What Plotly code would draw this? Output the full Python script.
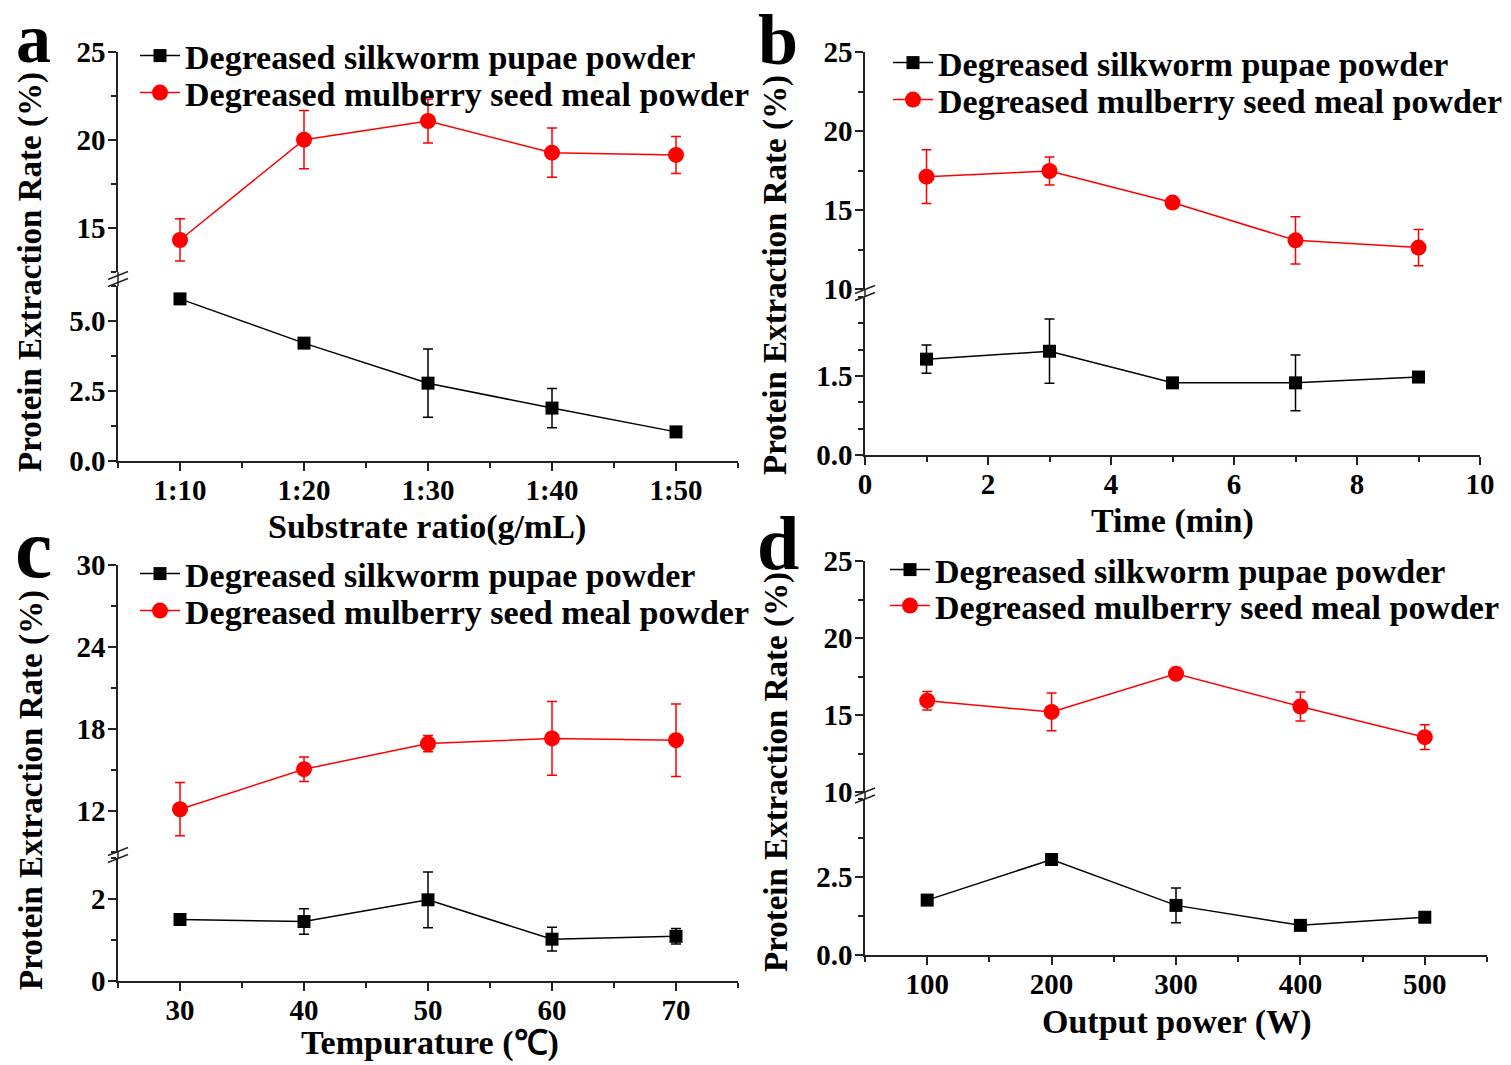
import plotly.graph_objects as go

W, H = 1511, 1065

# ---------------- data ----------------
legend_names = ["Degreased silkworm pupae powder", "Degreased mulberry seed meal powder"]

# (a) substrate ratio
ratio_labels = ["1:10", "1:20", "1:30", "1:40", "1:50"]
a_silk = [5.79, 4.21, 2.78, 1.89, 1.04]
a_silk_err = [0.08, 0.08, 1.22, 0.70, 0.06]
a_mulb = [14.32, 20.02, 21.08, 19.28, 19.15]
a_mulb_err = [1.20, 1.65, 1.25, 1.40, 1.05]

# (b) time
b_time = [1, 3, 5, 7, 9]
b_silk = [1.82, 1.97, 1.37, 1.37, 1.48]
b_silk_err = [0.27, 0.61, 0.06, 0.53, 0.10]
b_mulb = [17.11, 17.47, 15.47, 13.08, 12.62]
b_mulb_err = [1.70, 0.88, 0.12, 1.50, 1.15]

# (c) temperature
c_temp = [30, 40, 50, 60, 70]
c_silk = [1.50, 1.45, 1.98, 1.02, 1.09]
c_silk_err = [0.05, 0.31, 0.68, 0.29, 0.19]
c_mulb = [12.13, 15.06, 16.93, 17.31, 17.18]
c_mulb_err = [1.95, 0.90, 0.60, 2.70, 2.65]

# (d) output power
d_power = [100, 200, 300, 400, 500]
d_silk = [1.76, 3.06, 1.59, 0.95, 1.21]
d_silk_err = [0.05, 0.05, 0.56, 0.05, 0.05]
d_mulb = [15.93, 15.20, 17.68, 15.55, 13.56]
d_mulb_err = [0.60, 1.23, 0.15, 0.94, 0.80]

x_titles = ["Substrate ratio(g/mL)", "Time (min)", "Tempurature (\u2103)", "Output power (W)"]
y_title = "Protein Extraction Rate (%)"
panel_letters = ["a", "b", "c", "d"]

# ---------------- styling ----------------
FONT = "Liberation Serif"
AX = "#222222"
RED = "#ff0000"
BLACK = "#000000"
TICKFONT = dict(family=FONT, size=29, color="#000", weight="bold")


def fx(px):
    return px / W


def fy(py):
    return 1 - py / H


ratio_pos = [i + 1 for i in range(len(ratio_labels))]

panels = [
    dict(x=ratio_pos, silk=a_silk, silk_err=a_silk_err, mulb=a_mulb, mulb_err=a_mulb_err,
         xpx=(118, 738), lo=(461, 286), up=(272, 52),
         xrange=[0.5, 5.5], xtickvals=ratio_pos, xticktext=ratio_labels, xminor=(0.5, 1),
         lorange=[0, 6.25], lotv=[0, 2.5, 5.0], lott=["0.0", "2.5", "5.0"], lominor=1.25,
         uprange=[12.5, 25], uptv=[15, 20, 25], upminor=2.5,
         leg=(135, 56, 93), letter=(33, 38, 70), ytit=(31, 272), xtit=(427, 527)),
    dict(x=b_time, silk=b_silk, silk_err=b_silk_err, mulb=b_mulb, mulb_err=b_mulb_err,
         xpx=(865, 1480), lo=(455, 297), up=(289, 52),
         xrange=[0, 10], xtickvals=[0, 2, 4, 6, 8, 10], xticktext=["0", "2", "4", "6", "8", "10"], xminor=(0, 1),
         lorange=[0, 3], lotv=[0, 1.5], lott=["0.0", "1.5"], lominor=0.5,
         uprange=[10, 25], uptv=[10, 15, 20, 25], upminor=2.5,
         leg=(888, 63, 100), letter=(778, 40, 72), ytit=(776, 275), xtit=(1172, 521)),
    dict(x=c_temp, silk=c_silk, silk_err=c_silk_err, mulb=c_mulb, mulb_err=c_mulb_err,
         xpx=(118, 738), lo=(981, 858), up=(852, 565),
         xrange=[25, 75], xtickvals=[30, 40, 50, 60, 70], xticktext=["30", "40", "50", "60", "70"], xminor=(25, 5),
         lorange=[0, 3], lotv=[0, 2], lott=["0", "2"], lominor=1,
         uprange=[9, 30], uptv=[12, 18, 24, 30], upminor=3,
         leg=(135, 574, 611), letter=(33, 548, 84), ytit=(31, 790), xtit=(430, 1043)),
    dict(x=d_power, silk=d_silk, silk_err=d_silk_err, mulb=d_mulb, mulb_err=d_mulb_err,
         xpx=(865, 1487), lo=(955, 799), up=(792, 561),
         xrange=[50, 550], xtickvals=[100, 200, 300, 400, 500], xticktext=["100", "200", "300", "400", "500"], xminor=(50, 50),
         lorange=[0, 5], lotv=[0, 2.5], lott=["0.0", "2.5"], lominor=1.25,
         uprange=[10, 25], uptv=[10, 15, 20, 25], upminor=2.5,
         leg=(885, 570, 606), letter=(778, 543, 76), ytit=(776, 772), xtit=(1177, 1022)),
]

fig = go.Figure()
layout = dict(
    width=W, height=H, margin=dict(l=0, r=0, t=0, b=0, autoexpand=False),
    paper_bgcolor="white", plot_bgcolor="white",
    font=dict(family=FONT, color="#000", weight="bold"),
    showlegend=True,
)
shapes = []
annotations = []

for i, p in enumerate(panels):
    xname = "xaxis" if i == 0 else f"xaxis{i + 1}"
    xref = "x" if i == 0 else f"x{i + 1}"
    lo_idx, up_idx = 2 * i + 1, 2 * i + 2
    lo_name = "yaxis" if lo_idx == 1 else f"yaxis{lo_idx}"
    lo_ref = "y" if lo_idx == 1 else f"y{lo_idx}"
    up_name = f"yaxis{up_idx}"
    up_ref = f"y{up_idx}"
    leg_silk = "legend" if lo_idx == 1 else f"legend{lo_idx}"
    leg_mulb = f"legend{up_idx}"

    # traces
    fig.add_trace(go.Scatter(
        x=p["x"], y=p["silk"], xaxis=xref, yaxis=lo_ref, name=legend_names[0],
        mode="lines+markers", legend=leg_silk,
        line=dict(color=BLACK, width=1.5),
        marker=dict(symbol="square", size=13, color=BLACK),
        error_y=dict(type="data", array=p["silk_err"], visible=True, color=BLACK, thickness=1.5, width=5),
        cliponaxis=False,
    ))
    fig.add_trace(go.Scatter(
        x=p["x"], y=p["mulb"], xaxis=xref, yaxis=up_ref, name=legend_names[1],
        mode="lines+markers", legend=leg_mulb,
        line=dict(color=RED, width=1.5),
        marker=dict(symbol="circle", size=16, color=RED),
        error_y=dict(type="data", array=p["mulb_err"], visible=True, color=RED, thickness=1.5, width=5),
        cliponaxis=False,
    ))

    common_y = dict(showgrid=False, zeroline=False, showline=True, linecolor=AX, linewidth=1.5,
                    ticks="outside", ticklen=8, tickwidth=1.5, tickcolor=AX, tickfont=TICKFONT,
                    ticklabelstandoff=-3,
                    anchor=xref, fixedrange=True, automargin=False)
    layout[xname] = dict(
        domain=[fx(p["xpx"][0]), fx(p["xpx"][1])], range=p["xrange"], anchor=lo_ref,
        showgrid=False, zeroline=False, showline=True, linecolor=AX, linewidth=1.5,
        ticks="outside", ticklen=8, tickwidth=1.5, tickcolor=AX, tickfont=TICKFONT,
        ticklabelstandoff=-6,
        tickmode="array", tickvals=p["xtickvals"], ticktext=p["xticktext"],
        minor=dict(ticks="outside", ticklen=5, tickwidth=1.5, tickcolor=AX,
                   tick0=p["xminor"][0], dtick=p["xminor"][1], showgrid=False),
        fixedrange=True, automargin=False,
    )
    layout[lo_name] = dict(
        domain=[fy(p["lo"][0]), fy(p["lo"][1])], range=p["lorange"],
        tickmode="array", tickvals=p["lotv"], ticktext=p["lott"],
        minor=dict(ticks="outside", ticklen=5, tickwidth=1.5, tickcolor=AX,
                   tick0=0, dtick=p["lominor"], showgrid=False),
        **common_y,
    )
    layout[up_name] = dict(
        domain=[fy(p["up"][0]), fy(p["up"][1])], range=p["uprange"],
        tickmode="array", tickvals=p["uptv"], ticktext=[str(v) for v in p["uptv"]],
        minor=dict(ticks="outside", ticklen=5, tickwidth=1.5, tickcolor=AX,
                   tick0=p["uprange"][0], dtick=p["upminor"], showgrid=False),
        **common_y,
    )

    # one legend per entry so each row sits exactly where the reference has it
    for lname, row_y in ((leg_silk, p["leg"][1]), (leg_mulb, p["leg"][2])):
        layout[lname] = dict(
            x=fx(p["leg"][0]), y=fy(row_y), xanchor="left", yanchor="middle",
            bgcolor="rgba(0,0,0,0)", borderwidth=0, itemwidth=40,
            font=dict(family=FONT, size=34, color="#000", weight="bold"),
        )

    # axis break: connect the gap and draw // marks
    ax_x = p["xpx"][0]
    gy0, gy1 = p["up"][0], p["lo"][1]
    shapes.append(dict(type="line", xref="paper", yref="paper",
                       x0=fx(ax_x), x1=fx(ax_x), y0=fy(gy0), y1=fy(gy1),
                       line=dict(color=AX, width=1.5)))
    yb = (gy0 + gy1) / 2
    for d in (-3.5, 3.5):
        shapes.append(dict(type="line", xref="paper", yref="paper",
                           x0=fx(ax_x - 10), y0=fy(yb + d + 4), x1=fx(ax_x + 10), y1=fy(yb + d - 4),
                           line=dict(color=AX, width=1.5)))

    # panel letter
    annotations.append(dict(text=panel_letters[i], xref="paper", yref="paper",
                            x=fx(p["letter"][0]), y=fy(p["letter"][1]), xanchor="center", yanchor="middle",
                            showarrow=False,
                            font=dict(family=FONT, size=p["letter"][2], color="#000", weight="bold")))
    # y title
    annotations.append(dict(text=y_title, xref="paper", yref="paper", textangle=-90,
                            x=fx(p["ytit"][0]), y=fy(p["ytit"][1]), xanchor="center", yanchor="middle",
                            showarrow=False, font=dict(family=FONT, size=33, color="#000", weight="bold")))
    # x title
    annotations.append(dict(text=x_titles[i], xref="paper", yref="paper",
                            x=fx(p["xtit"][0]), y=fy(p["xtit"][1]), xanchor="center", yanchor="middle",
                            showarrow=False, font=dict(family=FONT, size=34, color="#000", weight="bold")))

layout["shapes"] = shapes
layout["annotations"] = annotations
fig.update_layout(**layout)

fig.write_html("out.html", config={"displayModeBar": False},
               post_script="document.body.style.margin='0px';")
